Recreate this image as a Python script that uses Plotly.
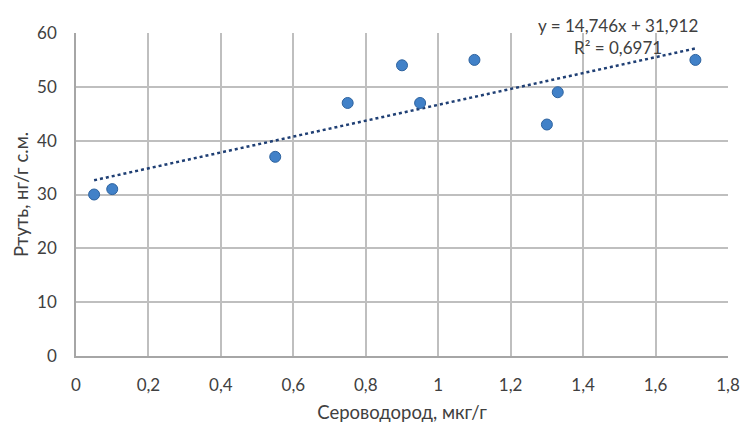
import plotly.graph_objects as go

# Hydrogen sulfide content (x) vs mercury content (y)
h2s = [0.05, 0.1, 0.55, 0.75, 0.9, 0.95, 1.1, 1.3, 1.33, 1.71]
hg = [30, 31, 37, 47, 54, 47, 55, 43, 49, 55]

# Linear trend coefficients as printed on the chart
slope = 14.746
intercept = 31.912
r2 = 0.6971

x_ticks = [0, 0.2, 0.4, 0.6, 0.8, 1.0, 1.2, 1.4, 1.6, 1.8]
y_ticks = [0, 10, 20, 30, 40, 50, 60]

font_family = "Lato"
text_col = "#404040"
grid_col = "#BFBFBF"

trend_x = [min(h2s), max(h2s)]
trend_y = [slope * v + intercept for v in trend_x]

fig = go.Figure()
fig.add_trace(go.Scatter(
    x=trend_x, y=trend_y, mode="lines",
    line=dict(color="#1F3F74", width=2.5, dash="dot"),
    hoverinfo="skip", showlegend=False,
))
fig.add_trace(go.Scatter(
    x=h2s, y=hg, mode="markers",
    marker=dict(size=11, color="#4181C8", line=dict(color="#2E639F", width=1)),
    showlegend=False,
))


def fmt(v, nd):
    return f"{v:.{nd}f}".replace(".", ",")


fig.add_annotation(
    x=1.495, y=59.4, xref="x", yref="y",
    text=f"y = {fmt(slope, 3)}x + {fmt(intercept, 3)}<br>R² = {fmt(r2, 4)}",
    showarrow=False, align="center", xanchor="center", yanchor="middle",
    font=dict(family=font_family, size=17, color=text_col),
)

axis_common = dict(
    showgrid=True, gridcolor=grid_col, gridwidth=1.5,
    zeroline=False, showline=True, linecolor="#A6A6A6", linewidth=1.5,
    ticks="", tickfont=dict(family=font_family, size=17, color=text_col),
    title_font=dict(family=font_family, size=18.5, color=text_col),
    fixedrange=True, automargin=False,
)

fig.update_xaxes(
    range=[0, 1.8], tickvals=x_ticks, ticklabelstandoff=13,
    title_text="Сероводород, мкг/г", title_standoff=12, **axis_common,
)
fig.update_yaxes(
    range=[0, 60], tickvals=y_ticks, ticklabelstandoff=14,
    title_text="Ртуть, нг/г с.м.", title_standoff=4, **axis_common,
)

fig.update_layout(
    width=741, height=423,
    margin=dict(l=76, r=13, t=33, b=67),
    paper_bgcolor="white", plot_bgcolor="white",
    separators=", ",
    font=dict(family=font_family, color=text_col),
)

fig.write_html("out.html")
